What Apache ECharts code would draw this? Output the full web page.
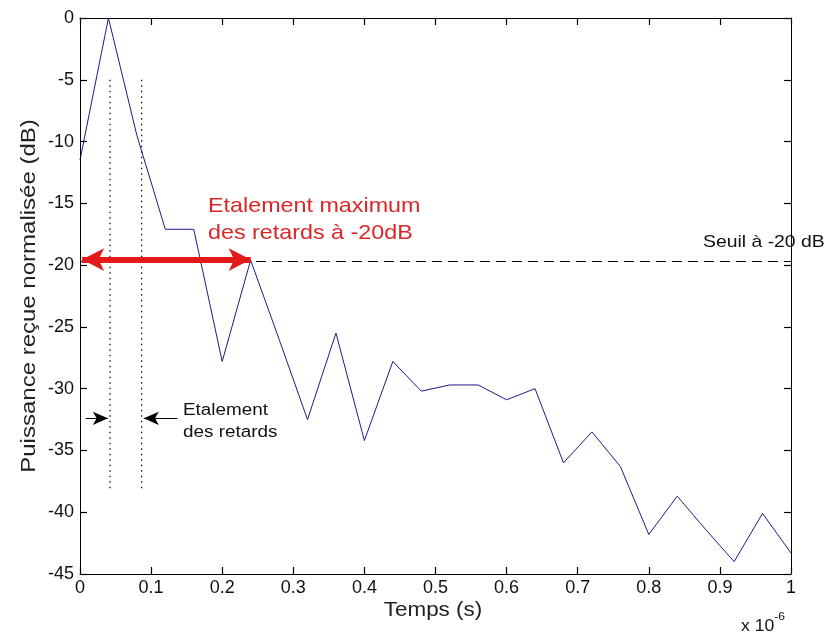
<!DOCTYPE html>
<html>
<head>
<meta charset="utf-8">
<script src="https://cdn.jsdelivr.net/npm/echarts@6/dist/echarts.min.js"></script>
<style>html,body{margin:0;padding:0;background:#fff;}#c{width:827px;height:637px;}</style>
</head>
<body>
<div id="c"></div>
<script>
// time in units of 1e-6 s
var times = [0,0.04,0.08,0.12,0.16,0.20,0.24,0.28,0.32,0.36,0.40,0.44,0.48,0.52,0.56,0.60,0.64,0.68,0.72,0.76,0.80,0.84,0.88,0.92,0.96,1.00];
var power = [-11.5,0,-9.5,-17.1,-17.1,-27.8,-19.6,-26.0,-32.5,-25.5,-34.2,-27.8,-30.2,-29.7,-29.7,-30.9,-30.0,-36.0,-33.5,-36.3,-41.8,-38.7,-41.4,-44.0,-40.1,-43.3];
var xTicks = ['0','0.1','0.2','0.3','0.4','0.5','0.6','0.7','0.8','0.9','1'];
var yTicks = ['0','-5','-10','-15','-20','-25','-30','-35','-40','-45'];
var threshold = -19.7;
var spreadMarkers = [0.0422, 0.0867];
var spreadTop = -5, spreadBottom = -38.3;
var spreadArrowY = -32.4;
var maxSpreadEnd = 0.24;

var FONT = '"Liberation Sans", Arial, sans-serif';
var chart = echarts.init(document.getElementById('c'));

function axisCommon(pos) {
  return {
    position: pos,
    axisLine: {show: true, onZero: false, lineStyle: {color: '#000', width: 1}},
    axisTick: {show: true, inside: true, length: 7, lineStyle: {color: '#000', width: 1.2}},
    splitLine: {show: false},
    z: 5
  };
}

var series = [
  {
    type: 'line', name: 'p',
    data: times.map(function(t, i){ return [t, power[i]]; }),
    symbol: 'none',
    lineStyle: {color: '#1c1c8a', width: 1},
    z: 3,
    markLine: {
      silent: true, animation: false,
      label: {show: false},
      data: [
        [{coord: [0, threshold], symbol: 'none', lineStyle: {color: '#000', type: [10, 6], width: 1}},
         {coord: [1, threshold], symbol: 'none'}],
        [{coord: [0.003, -19.55], symbol: 'arrow', symbolSize: [17, 22], lineStyle: {color: '#e41a1a', type: 'solid', width: 6}},
         {coord: [maxSpreadEnd, -19.55], symbol: 'arrow', symbolSize: [17, 22]}],
        [{coord: [0.008, spreadArrowY], symbol: 'none', lineStyle: {color: '#000', type: 'solid', width: 1}},
         {coord: [spreadMarkers[0] - 0.003, spreadArrowY], symbol: 'arrow', symbolSize: [10, 15]}],
        [{coord: [0.137, spreadArrowY], symbol: 'none', lineStyle: {color: '#000', type: 'solid', width: 1}},
         {coord: [spreadMarkers[1] + 0.003, spreadArrowY], symbol: 'arrow', symbolSize: [10, 15]}]
      ]
    }
  }
];
spreadMarkers.forEach(function(x){
  series.push({
    type: 'line', data: [[x, spreadTop], [x, spreadBottom]], symbol: 'none',
    lineStyle: {color: '#000', width: 1.2, type: [1.5, 4]}, z: 2, silent: true
  });
});

chart.setOption({
  animation: false,
  backgroundColor: '#fff',
  textStyle: {fontFamily: FONT},
  grid: {left: 80, right: 36, top: 18, bottom: 63},
  xAxis: [
    Object.assign(axisCommon('bottom'), {
      type: 'value', min: 0, max: 1, interval: 0.1,
      axisLabel: {color: '#111', fontSize: 18, margin: 5, fontFamily: FONT,
        formatter: function(v){ return xTicks[Math.round(v * 10)]; }}
    }),
    Object.assign(axisCommon('top'), {
      type: 'value', min: 0, max: 1, interval: 0.1,
      axisLabel: {show: false}
    })
  ],
  yAxis: [
    Object.assign(axisCommon('left'), {
      type: 'value', min: -45, max: 0, interval: 5,
      axisLabel: {color: '#111', fontSize: 18, margin: 6, fontFamily: FONT,
        formatter: function(v){ return yTicks[Math.round(-v / 5)]; }}
    }),
    Object.assign(axisCommon('right'), {
      type: 'value', min: -45, max: 0, interval: 5,
      axisLabel: {show: false}
    })
  ],
  series: series,
  graphic: [
    {type: 'text', x: 433, y: 610, scaleX: 1.12, style: {text: 'Temps (s)', fill: '#222', font: '20px ' + FONT, align: 'center', verticalAlign: 'middle'}},
    {type: 'text', x: 29, y: 296, rotation: Math.PI / 2, scaleX: 1.2, style: {text: 'Puissance reçue normalisée (dB)', fill: '#222', font: '20px ' + FONT, align: 'center', verticalAlign: 'middle'}},
    {type: 'text', x: 208, y: 193, scaleX: 1.11, style: {text: 'Etalement maximum\ndes retards à -20dB', fill: '#dc2626', font: '21px ' + FONT, lineHeight: 27}},
    {type: 'text', x: 703, y: 234, scaleX: 1.14, style: {text: 'Seuil à -20 dB', fill: '#111', font: '17px ' + FONT}},
    {type: 'text', x: 183, y: 400, scaleX: 1.18, style: {text: 'Etalement\ndes retards', fill: '#111', font: '16px ' + FONT, lineHeight: 22}},
    {type: 'text', x: 741, y: 611, scaleX: 1.1, style: {
      text: '{a|x 10}{b|-6}', rich: {a: {fontSize: 16, fill: '#111', fontFamily: FONT, padding: [8, 0, 0, 0]}, b: {fontSize: 11, fill: '#111', fontFamily: FONT, verticalAlign: 'top'}}}}
  ]
});
</script>
</body>
</html>
